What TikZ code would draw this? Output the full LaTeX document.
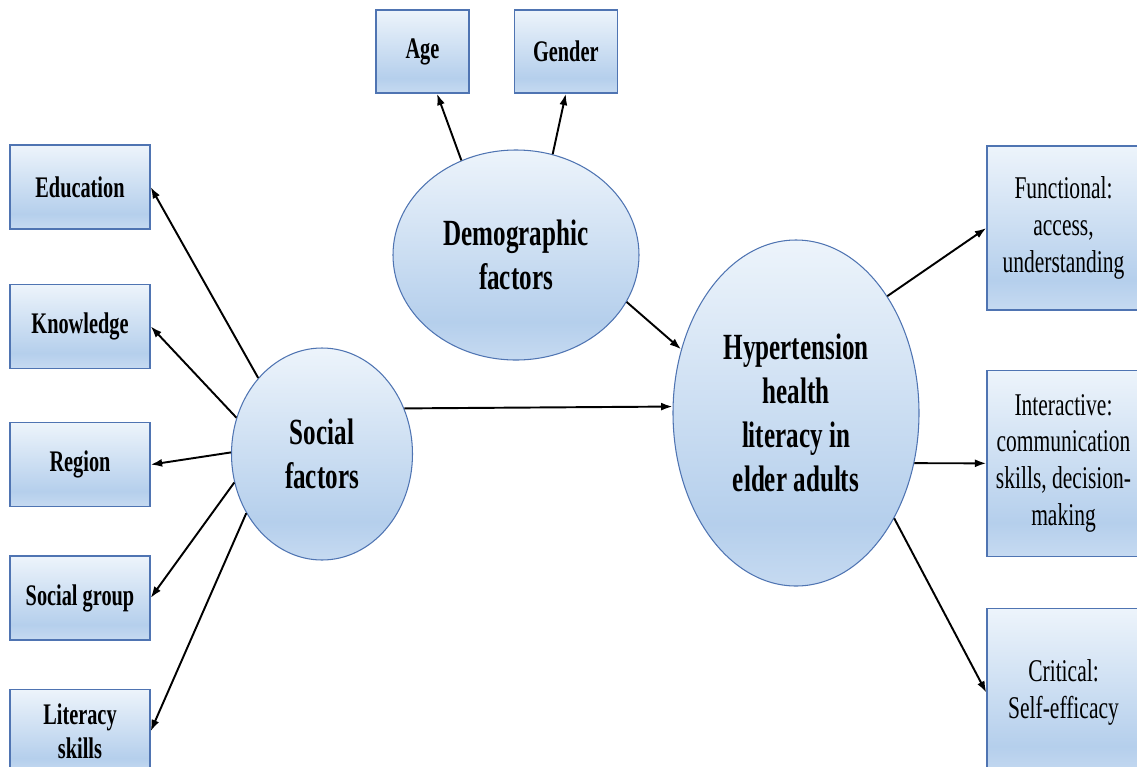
\documentclass[tikz,border=0pt]{standalone}
\usepackage{fontspec}
\setmainfont{Liberation Serif}[FakeStretch=0.68]
\usetikzlibrary{positioning,shapes.geometric,arrows.meta}
\definecolor{edgeblue}{RGB}{79,116,178}
\definecolor{filltop}{RGB}{237,244,251}
\definecolor{fillmid}{RGB}{181,207,236}
\definecolor{fillbot}{RGB}{198,218,241}
\pgfdeclareverticalshading{softblue}{100bp}{color(0bp)=(fillbot); color(25bp)=(fillbot); color(34bp)=(fillmid); color(75bp)=(filltop); color(100bp)=(filltop)}
\tikzset{factor/.style = {draw=edgeblue, line width=0.75pt, shade, shading=softblue, rectangle, minimum width=2.8cm, minimum height=1.68cm, inner sep=2pt, align=center, font=\fontsize{17}{19}\selectfont\bfseries}}
\tikzset{facet/.style = {factor, minimum width=3.06cm, font=\fontsize{18}{21}\selectfont}}
\tikzset{group/.style = {draw=edgeblue, line width=0.6pt, shade, shading=softblue, ellipse, inner sep=0pt, align=center, font=\fontsize{21}{25}\selectfont\bfseries}}

\begin{document}
\begin{tikzpicture}[>={Latex[length=2.3mm, width=1.6mm]}, line width=1.1pt]
  \useasboundingbox (0,0) rectangle (22.74,-15.32);

  % the three factor groups
  \node [group, minimum width=4.92cm, minimum height=4.2cm] (demo) at (10.32,-5.10) {Demographic\\ factors};
  \node [group, minimum width=3.62cm, minimum height=4.24cm] (soc) at (6.44,-9.08) {Social\\ factors};
  \node [group, minimum width=4.92cm, minimum height=6.92cm] (hyp) at (15.92,-8.26) {Hypertension\\ health\\ literacy in\\ elder adults};

  % left column
  \node [factor] (edu) at (1.6,-3.74) {Education};
  \node [factor, below=1.08cm of edu] (know) {Knowledge};
  \node [factor, below=1.06cm of know] (reg) {Region};
  \node [factor, below=0.96cm of reg] (sgroup) {Social group};
  \node [factor, below=0.96cm of sgroup] (lit) {Literacy\\ skills};

  % top row
  \node [factor, minimum width=1.86cm, minimum height=1.66cm] (age) at (8.45,-1.03) {Age};
  \node [factor, minimum width=2.06cm, minimum height=1.66cm, right=0.88cm of age] (gender) {Gender};

  % right column
  \node [facet, minimum height=3.28cm] (func) at (21.27,-4.56) {Functional:\\ access,\\ understanding};
  \node [facet, minimum height=3.72cm, below=1.18cm of func] (inter) {Interactive:\\ communication\\ skills, decision-\\ making};
  \node [facet, minimum height=3.36cm, below=1.02cm of inter] (crit) {Critical:\\ Self-efficacy};

  \path[->] (soc.130) edge (edu.east);
  \path[->] (soc.157) edge (know.east);
  \path[->] (soc.179) edge (reg.east);
  \path[->] (soc.198) edge (sgroup.east);
  \path[->] (soc.218) edge (lit.east);

  \path[->] (demo.120) edge (age.-71);
  \path[->] (demo.70) edge (gender.south);

  \path[->] (demo.-23) edge (hyp.151);
  \path[->] (soc.29) edge (hyp.177);

  \path[->] (hyp.52) edge (func.west);
  \path[->] (hyp.-23) edge (inter.west);
  \path[->] (hyp.-47) edge (crit.west);
\end{tikzpicture}
\end{document}
